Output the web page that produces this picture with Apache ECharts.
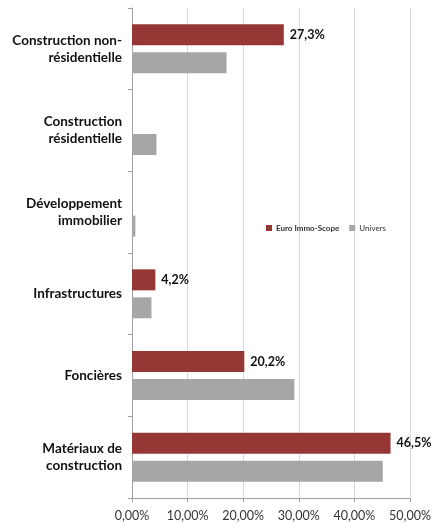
<!DOCTYPE html>
<html><head><meta charset="utf-8">
<script src="https://cdn.jsdelivr.net/npm/echarts@6/dist/echarts.min.js"></script>
<style>html,body{margin:0;padding:0;background:#fff}#c{width:435px;height:524px}</style>
</head><body><div id="c"></div>
<script>
var categories = ["Construction non-\nrésidentielle", "Construction\nrésidentielle", "Développement\nimmobilier", "Infrastructures", "Foncières", "Matériaux de\nconstruction"];
var euroImmoScope = [27.3, 0, 0, 4.2, 20.2, 46.5];
var univers = [17.0, 4.4, 0.6, 3.5, 29.2, 45.1];
var xTicks = [0, 10, 20, 30, 40, 50];

var chart = echarts.init(document.getElementById('c'));
chart.setOption({
  animation: false,
  textStyle: {fontFamily: 'Lato, "Open Sans", sans-serif'},
  legend: {
    left: 261, top: 219, itemWidth: 6, itemHeight: 6, itemGap: 10,
    icon: 'rect',
    data: [
      {name: 'Euro Immo-Scope', textStyle: {fontWeight: 'bold'}},
      {name: 'Univers'}
    ],
    textStyle: {fontSize: 8, color: '#333', padding: [0, 0, 0, -1]}
  },
  grid: {left: 132, right: 25, top: 8, bottom: 26, containLabel: false},
  xAxis: {
    type: 'value', min: xTicks[0], max: xTicks[xTicks.length - 1], interval: 10,
    axisLine: {show: true, lineStyle: {color: '#a0a0a0'}},
    axisTick: {show: true, length: 4, lineStyle: {color: '#a0a0a0'}},
    splitLine: {show: true, lineStyle: {color: '#d9d9d9'}},
    axisLabel: {formatter: function (v) { return v.toFixed(2).replace('.', ',') + '%'; }, fontSize: 12.5, color: '#333', margin: 11}
  },
  yAxis: {
    type: 'category', data: categories, inverse: true,
    axisLine: {show: true, lineStyle: {color: '#a0a0a0'}},
    axisTick: {show: true, length: 4, lineStyle: {color: '#a0a0a0'}},
    axisLabel: {fontSize: 13.5, fontWeight: 'bold', color: '#111', margin: 10, lineHeight: 17, align: 'right'}
  },
  series: [
    {
      name: 'Euro Immo-Scope', type: 'bar', data: euroImmoScope,
      barWidth: 21, barGap: '33%',
      itemStyle: {color: '#953735'},
      label: {
        show: true, position: 'right', distance: 6, fontSize: 12.5, fontWeight: 'bold', color: '#111',
        formatter: function (p) { return p.value ? p.value.toFixed(1).replace('.', ',') + '%' : ''; }
      }
    },
    {
      name: 'Univers', type: 'bar', data: univers,
      barWidth: 21,
      itemStyle: {color: '#a6a6a6'}
    }
  ]
});
</script></body></html>
